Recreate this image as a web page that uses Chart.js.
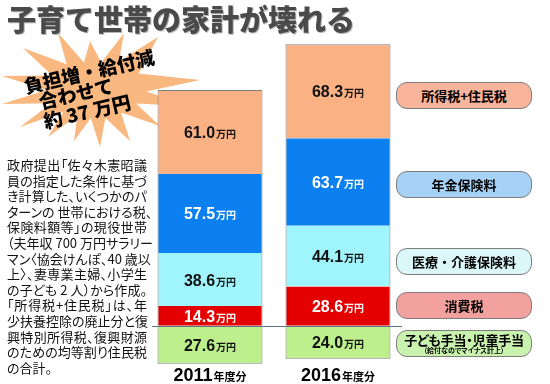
<!DOCTYPE html>
<html lang="ja"><head><meta charset="utf-8">
<script src="https://cdn.jsdelivr.net/npm/chart.js@4.4.1/dist/chart.umd.min.js"></script>
<style>
html,body{margin:0;padding:0;background:#fff;}
#wrap{position:relative;width:550px;height:384px;overflow:hidden;background:#fff;}
#c{position:absolute;left:0;top:0;}
.jp{font-family:"Noto Sans CJK JP","Noto Sans",sans-serif;}
#title{position:absolute;left:7px;top:3px;font-size:29px;line-height:31px;font-weight:900;color:#4a4a4a;white-space:nowrap;text-shadow:1px 1px 0 #b5b5b5;}
.burst{position:absolute;font-weight:900;font-size:19px;line-height:20px;color:#000;white-space:nowrap;transform:translate(-50%,-50%) rotate(-13deg);}
#para{position:absolute;left:7px;top:157px;width:140px;font-size:13px;line-height:15.6px;color:#111;font-feature-settings:"palt";}
#para div{white-space:nowrap;text-align:justify;text-align-last:justify;}
#para div.last{text-align:left;text-align-last:left;}
.lg{position:absolute;left:396px;width:136px;height:27px;box-sizing:border-box;border:1.5px solid #7d7d7d;border-radius:11px;display:flex;flex-direction:column;align-items:center;justify-content:center;font-weight:700;font-size:13px;color:#000;line-height:14px;}
.lg .big{font-size:13px;line-height:13px;font-feature-settings:"palt";letter-spacing:-0.2px;white-space:nowrap;}
.lg small{font-size:7px;line-height:8px;font-weight:700;white-space:nowrap;font-feature-settings:"palt";}
</style></head>
<body>
<div id="wrap">
<canvas id="c" width="550" height="384"></canvas>
<div id="title" class="jp">子育て世帯の家計が壊れる</div>
<div class="burst jp" style="left:89px;top:71px;">負担増・給付減</div>
<div class="burst jp" style="left:76px;top:93px;">合わせて</div>
<div class="burst jp" style="left:87px;top:111px;">約 37 万円</div>
<div id="para" class="jp">
<div>政府提出「佐々木憲昭議</div>
<div>員の指定した条件に基づ</div>
<div>き計算した、いくつかのパ</div>
<div>ターンの 世帯における税、</div>
<div>保険料額等」の現役世帯</div>
<div>（夫年収 700 万円サラリー</div>
<div>マン〈協会けんぽ、40 歳以</div>
<div>上〉、妻専業主婦、小学生</div>
<div>の子ども 2 人）から作成。</div>
<div>「所得税+住民税」は、年</div>
<div>少扶養控除の廃止分と復</div>
<div>興特別所得税、復興財源</div>
<div>のための均等割り住民税</div>
<div class="last">の合計。</div>
</div>
<div class="lg jp" style="top:82px;background:#F8B59B;">所得税+住民税</div>
<div class="lg jp" style="top:171px;background:#A6D2F7;">年金保険料</div>
<div class="lg jp" style="top:248px;background:#DCF7FA;">医療・介護保険料</div>
<div class="lg jp" style="top:292px;background:#F2A19F;">消費税</div>
<div class="lg jp" style="top:330px;background:#C9F2AE;"><span class="big">子ども手当・児童手当</span><small>（給付なのでマイナス計上）</small></div>
</div>
<script>
const categories = ['2011', '2016'];
const categorySuffix = '年度分';
const unitLabel = '万円';
const seriesLabels = ['子ども手当・児童手当', '消費税', '医療・介護保険料', '年金保険料', '所得税+住民税'];
const childAllowance = [-27.6, -24.0];   // 給付なのでマイナス計上
const consumptionTax = [14.3, 28.6];
const medicalCare = [38.6, 44.1];
const pension = [57.5, 63.7];
const incomeTax = [61.0, 68.3];

const seriesData = [childAllowance, consumptionTax, medicalCare, pension, incomeTax];
const seriesColors = ['#BDF08C', '#E50000', '#9FF5FB', '#0C80F0', '#FAB184'];
const labelColors = ['#111', '#fff', '#111', '#fff', '#111'];

const starburst = {
  id: 'starburst',
  beforeDatasetsDraw(chart) {
    const ctx = chart.ctx;
    const tips = [[23,48],[58,33],[90,41],[124,33],[158,37],[200,80],[188,106],[160,126],[130,141],[100,147],[74,141],[48,137],[20,127],[2,104],[2,76]];
    const cx = 95, cy = 90, k = 0.52;
    ctx.save();
    ctx.beginPath();
    for (let i = 0; i < tips.length; i++) {
      const a = tips[i], b = tips[(i + 1) % tips.length];
      if (i === 0) ctx.moveTo(a[0], a[1]); else ctx.lineTo(a[0], a[1]);
      const mx = (a[0] + b[0]) / 2, my = (a[1] + b[1]) / 2;
      ctx.lineTo(cx + k * (mx - cx), cy + k * (my - cy));
    }
    ctx.closePath();
    ctx.fillStyle = '#F9B87F';
    ctx.fill();
    ctx.restore();
  }
};

const overlay = {
  id: 'overlay',
  afterDatasetsDraw(chart) {
    const ctx = chart.ctx;
    const ys = chart.scales.y, xs = chart.scales.x, ca = chart.chartArea;
    const y0 = Math.round(ys.getPixelForValue(0)) + 0.5;
    ctx.save();
    ctx.strokeStyle = '#5d7384';
    ctx.lineWidth = 1;
    ctx.beginPath();
    ctx.moveTo(ca.left + 6, y0);
    ctx.lineTo(ca.right, y0);
    ctx.stroke();
    chart.data.datasets.forEach((ds, di) => {
      const meta = chart.getDatasetMeta(di);
      meta.data.forEach((bar, i) => {
        const v = Math.abs(ds.data[i]).toFixed(1);
        const cy = (bar.y + bar.base) / 2;
        ctx.font = 'bold 16px "Liberation Sans", Arial, sans-serif';
        const w1 = ctx.measureText(v).width;
        ctx.font = 'bold 10px "Noto Sans CJK JP", sans-serif';
        const w2 = ctx.measureText(unitLabel).width;
        const x0 = bar.x - (w1 + w2 + 1) / 2;
        ctx.fillStyle = labelColors[di];
        ctx.textBaseline = 'alphabetic';
        ctx.textAlign = 'left';
        ctx.font = 'bold 16px "Liberation Sans", Arial, sans-serif';
        ctx.fillText(v, x0, cy + 6);
        ctx.font = 'bold 10px "Noto Sans CJK JP", sans-serif';
        ctx.fillText(unitLabel, x0 + w1 + 1, cy + 6);
      });
    });
    categories.forEach((c, i) => {
      const x = xs.getPixelForValue(i);
      ctx.font = 'bold 18px "Liberation Sans", Arial, sans-serif';
      const w1 = ctx.measureText(c).width;
      ctx.font = 'bold 11px "Noto Sans CJK JP", sans-serif';
      const w2 = ctx.measureText(categorySuffix).width;
      const x0 = x - (w1 + w2 + 1) / 2;
      ctx.fillStyle = '#000';
      ctx.textAlign = 'left';
      ctx.font = 'bold 18px "Liberation Sans", Arial, sans-serif';
      ctx.fillText(c, x0, 381);
      ctx.font = 'bold 11px "Noto Sans CJK JP", sans-serif';
      ctx.fillText(categorySuffix, x0 + w1 + 1, 381);
    });
    ctx.restore();
  }
};

new Chart(document.getElementById('c'), {
  type: 'bar',
  data: {
    labels: categories,
    datasets: seriesLabels.map((name, i) => ({
      label: name,
      data: seriesData[i],
      backgroundColor: seriesColors[i],
      borderColor: '#7f7f7f',
      borderWidth: 1,
      borderSkipped: 'middle',
      categoryPercentage: 1,
      barPercentage: 0.82
    }))
  },
  options: {
    responsive: false,
    devicePixelRatio: 1,
    animation: false,
    layout: { padding: { left: 146, right: 148, top: 37, bottom: 17 } },
    plugins: { legend: { display: false }, tooltip: { enabled: false }, title: { display: false } },
    scales: {
      x: { stacked: true, display: false },
      y: { stacked: true, display: false, min: -30, max: 210 }
    }
  },
  plugins: [starburst, overlay]
});
</script>
</body></html>
